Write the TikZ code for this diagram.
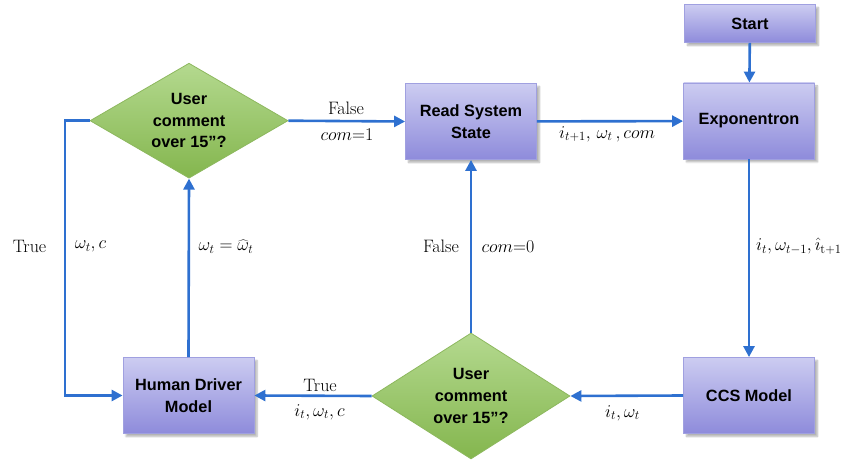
\documentclass[tikz,border=0pt]{standalone}
\usepackage{fix-cm}
\usepackage{fontspec}
\setsansfont{Liberation Sans}
\usetikzlibrary{arrows.meta,shapes.geometric,shadows.blur}

\definecolor{flowblue}{RGB}{46,112,208}
\definecolor{boxtop}{RGB}{204,204,241}
\definecolor{boxbot}{RGB}{142,139,219}
\definecolor{boxedge}{RGB}{160,160,224}
\definecolor{dtop}{RGB}{180,217,143}
\definecolor{dbot}{RGB}{132,182,78}
\definecolor{dedge}{RGB}{141,184,94}

\begin{document}
\begin{tikzpicture}[x=1pt,y=-1pt,
  procbox/.style={rectangle, draw=boxedge, line width=0.8pt,
    top color=boxtop, bottom color=boxbot,
    minimum width=131pt, minimum height=76pt, inner sep=0pt, align=center,
    font=\sffamily\bfseries\fontsize{16.3}{21.7}\selectfont,
    blur shadow={shadow xshift=3pt, shadow yshift=-3pt, shadow blur steps=6, shadow opacity=30}},
  decision/.style={diamond, aspect=1.72, draw=dedge, line width=0.8pt,
    top color=dtop, bottom color=dbot, inner sep=0pt,
    minimum width=198pt, minimum height=115pt, align=center,
    font=\sffamily\bfseries\fontsize{16.3}{21.7}\selectfont},
  flow/.style={draw=flowblue, line width=2.6pt, -{Triangle[length=11pt,width=11pt]}},
  lbl/.style={font=\fontsize{18}{22}\selectfont, inner sep=0pt}
]
\useasboundingbox (0,0) rectangle (841,462);

% process boxes
\node[procbox, minimum height=38pt] (start) at (750,23.5) {Start};
\node[procbox] (expo) at (749,121) {Exponentron};
\node[procbox] (read) at (471,121.5) {Read System\\State};
\node[procbox] (ccs) at (749,395.5) {CCS Model};
\node[procbox] (hdm) at (188.5,395.5) {Human Driver\\Model};

% decisions
\node[decision] (d1) at (189,120.7) {User\\comment\\over 15”?};
\node[decision, minimum height=126pt, aspect=1.57] (d2) at (471,396) {User\\comment\\over 15”?};

% connectors
\coordinate (bend) at (65,120.7);
\draw[flow] (start) -- (expo);
\draw[flow] (read) -- (expo);
\draw[flow] (expo) -- (ccs);
\draw[flow] (ccs.west) -- (d2.east);
\draw[flow] (d2.west) -- (hdm.east);
\draw[flow] (d2.north) -- (read.south);
\draw[flow] (hdm.north) -- (d1.south);
\draw[flow] (d1.east) -- (read.west);
\draw[flow] (d1.west) -- (bend) |- (hdm.west);

% connector labels
\node[lbl] (l1) at (346,108) {False};
\node[lbl] (l2) at (347,135) {$com{=}1$};
\node[lbl] (l3) at (607,134) {$i_{t+1},\, \omega_t\,, com$};
\node[lbl] (l4) at (29.5,246.5) {True};
\node[lbl] (l5) at (90.5,246.5) {$\omega_t, c$};
\node[lbl] (l6) at (226,246.5) {$\omega_t = \widehat{\omega}_t$};
\node[lbl] (l7) at (441,246.5) {False};
\node[lbl] (l8) at (508,246.5) {$com{=}0$};
\node[lbl, anchor=west] (l9) at (756,246.5) {$i_t, \omega_{t-1}, \hat{\imath}_{\mathrm{t+1}}$};
\node[lbl] (l10) at (320,385) {True};
\node[lbl] (l11) at (319.5,412) {$i_t, \omega_t, c$};
\node[lbl] (l12) at (622.5,413) {$i_t, \omega_t$};
\end{tikzpicture}
\end{document}
